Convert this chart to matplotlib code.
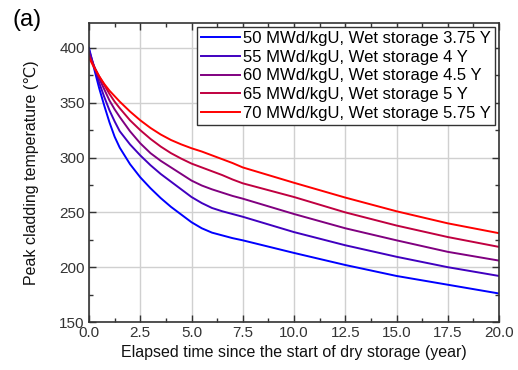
import matplotlib
matplotlib.use("Agg")
import matplotlib.pyplot as plt
from matplotlib.ticker import MultipleLocator, FormatStrFormatter

plt.rcParams['font.family'] = ['Liberation Sans', 'DejaVu Sans']

t = [0.0, 0.25, 0.5, 0.75, 1.0, 1.25, 1.5, 2.0, 2.5, 3.0, 3.5, 4.0, 4.5, 5.0, 5.5, 6.0, 6.5, 7.0, 7.5, 10.0, 12.5, 15.0, 17.5, 20.0]

temp_50 = [400, 381, 363, 347, 332, 319, 309, 294, 282, 272, 263, 255, 248, 241, 235.5, 231.5, 229, 226.5, 224.5, 213, 202, 192, 184, 176]
temp_55 = [398, 383, 368, 355, 343, 333, 324, 312, 302, 293, 285, 278, 271, 264, 258.5, 254, 251, 248.5, 246, 232, 220, 209.5, 200, 192]
temp_60 = [395, 383, 372, 362, 352, 344, 337, 324, 313, 304, 297, 291, 285, 279, 274.5, 271, 268, 265, 262.5, 248.5, 235.5, 224.5, 214, 206]
temp_65 = [393, 383, 374, 366, 358, 351, 345, 334, 325, 317, 310, 304, 299, 294.5, 291, 287.5, 284, 280, 276.5, 264, 250, 238, 227.5, 218.5]
temp_70 = [391, 382, 374, 367, 361, 356, 351, 342, 334, 327, 321, 316, 312, 308.5, 305.5, 302, 298.5, 295, 291, 277, 263.5, 251, 240, 231]

labels = ["50 MWd/kgU, Wet storage 3.75 Y",
          "55 MWd/kgU, Wet storage 4 Y",
          "60 MWd/kgU, Wet storage 4.5 Y",
          "65 MWd/kgU, Wet storage 5 Y",
          "70 MWd/kgU, Wet storage 5.75 Y"]
colors = ['#0000ff', '#4000c0', '#800080', '#c00040', '#ff0000']
series = [temp_50, temp_55, temp_60, temp_65, temp_70]

fig = plt.figure(figsize=(5.18, 3.70), dpi=100)
ax = fig.add_axes([89/518, 1-322/370, (499-89)/518, (322-22.7)/370])

for y, c, lab in zip(series, colors, labels):
    ax.plot(t, y, color=c, lw=1.4, label=lab)

ax.set_xlim(0, 20)
ax.set_ylim(150, 423)
ax.xaxis.set_major_locator(MultipleLocator(2.5))
ax.xaxis.set_minor_locator(MultipleLocator(1.25))
ax.yaxis.set_major_locator(MultipleLocator(50))
ax.yaxis.set_minor_locator(MultipleLocator(25))
ax.xaxis.set_major_formatter(FormatStrFormatter('%.1f'))
ax.grid(True, which='major', color='#d0d0d0', lw=1.0)
ax.set_axisbelow(True)
ax.tick_params(which='both', direction='in', top=True, right=True, labelsize=11, colors='#333333')
ax.tick_params(which='major', length=5, width=1, pad=3)
ax.tick_params(which='minor', length=3, width=1)
for s in ax.spines.values():
    s.set_color('#333333')
    s.set_linewidth(1.2)

ax.set_xlabel("Elapsed time since the start of dry storage (year)", fontsize=11.5, color='#111111')
ax.set_ylabel("Peak cladding temperature (\u2103)", fontsize=11.5, color='#111111')
ax.xaxis.set_label_coords(0.5, -0.077)
ax.yaxis.set_label_coords(-0.122, 0.5)

leg = ax.legend(loc='upper right', bbox_to_anchor=(495/518, 1-27/370), bbox_transform=fig.transFigure,
                borderaxespad=0, fontsize=12, handlelength=2.3, handletextpad=0.2,
                labelspacing=0.22, fancybox=False, framealpha=1, edgecolor='#333333',
                borderpad=0.25)
leg.get_frame().set_linewidth(1.0)

fig.text(12/518, 1-20/370, "(a)", fontsize=17, va='center', ha='left')

fig.savefig("out.png", dpi=100)
